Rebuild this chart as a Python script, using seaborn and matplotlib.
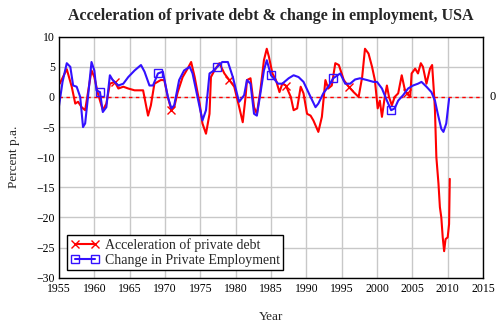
import numpy as np
import pandas as pd
import seaborn as sns
import matplotlib
matplotlib.use("Agg")
import matplotlib.pyplot as plt

# ---- data ----
debt_years = [1955.1, 1956.1, 1956.8, 1957.3, 1957.7, 1958.2, 1958.7, 1959.6, 1960.0, 1960.5,
              1961.2, 1961.7, 1962.2, 1962.9, 1963.4, 1964.1, 1964.8, 1965.7, 1966.9, 1967.6,
              1968.0, 1968.5, 1969.4, 1969.9, 1970.4, 1970.9, 1971.3, 1971.8, 1972.5, 1973.2,
              1973.7, 1974.2, 1974.9, 1975.3, 1975.8, 1976.3, 1976.5, 1977.0, 1977.7, 1978.4,
              1979.1, 1979.8, 1980.5, 1981.0, 1981.4, 1981.6, 1982.1, 1982.6, 1983.0, 1983.5,
              1984.0, 1984.4, 1984.7, 1985.2, 1985.7, 1986.2, 1986.6, 1987.1, 1987.8, 1988.2,
              1988.7, 1989.2, 1989.6, 1990.1, 1990.6, 1991.0, 1991.7, 1992.2, 1992.7, 1993.1,
              1993.6, 1994.1, 1994.6, 1995.3, 1996.0, 1996.7, 1997.4, 1997.9, 1998.3, 1998.8,
              1999.3, 1999.7, 2000.1, 2000.4, 2000.7, 2001.1, 2001.4, 2001.7, 2002.1, 2002.5,
              2003.0, 2003.5, 2003.9, 2004.2, 2004.7, 2004.9, 2005.4, 2005.8, 2006.2, 2006.5,
              2007.0, 2007.5, 2007.8, 2008.1, 2008.2, 2008.4, 2008.7, 2008.9, 2009.1, 2009.3,
              2009.5, 2009.7, 2010.0, 2010.2, 2010.3]
debt_accel = [2.2, 4.6, 1.7, -1.1, -0.8, -1.7, -2.2, 4.4, 3.3, 0.6,
              -2.2, -1.1, 2.2, 2.5, 1.4, 1.7, 1.4, 1.1, 1.1, -3.1,
              -1.4, 2.2, 2.8, 2.8, 0.0, -2.2, -1.7, 0.8, 3.3, 4.7,
              5.8, 3.3, -1.1, -4.4, -6.1, -2.8, 3.3, 4.4, 5.6, 3.9,
              2.8, 1.7, -1.7, -4.2, 0.0, 2.8, 3.1, -1.7, -2.8, 1.1,
              6.1, 8.0, 6.7, 3.9, 2.8, 0.8, 2.2, 1.9, 0.0, -2.2,
              -1.9, 1.7, 0.6, -2.8, -3.1, -3.9, -5.8, -3.3, 2.8, 1.4,
              1.9, 5.6, 5.3, 2.8, 1.7, 0.8, 0.0, 3.3, 8.0, 7.2,
              5.0, 2.8, -1.9, -0.6, -3.3, 0.0, 1.9, 0.0, -1.4, 0.0,
              0.6, 3.6, 1.4, 0.6, 0.0, 3.9, 4.7, 3.9, 5.6, 5.0,
              2.2, 4.7, 5.3, 0.0, -2.2, -10.0, -14.4, -18.3, -20.0, -23.3,
              -25.6, -23.6, -23.3, -21.1, -13.6]

emp_years = [1955.0, 1955.5, 1956.1, 1956.6, 1957.0, 1957.5, 1958.0, 1958.4, 1958.7, 1959.1,
             1959.6, 1960.0, 1960.3, 1960.8, 1961.2, 1961.7, 1962.2, 1962.6, 1963.4, 1964.1,
             1964.8, 1965.7, 1966.6, 1967.1, 1967.8, 1968.3, 1969.0, 1969.7, 1970.4, 1970.9,
             1971.3, 1972.0, 1972.7, 1973.5, 1973.9, 1974.6, 1975.3, 1975.8, 1976.3, 1976.7,
             1977.4, 1978.1, 1978.9, 1979.6, 1980.3, 1980.5, 1981.2, 1981.6, 1982.1, 1982.6,
             1983.0, 1983.5, 1984.0, 1984.4, 1985.0, 1986.0, 1986.6, 1987.5, 1988.2, 1988.9,
             1989.6, 1990.6, 1991.3, 1991.7, 1992.4, 1993.1, 1993.8, 1994.8, 1995.5, 1996.2,
             1996.9, 1997.6, 1998.6, 1999.5, 2000.0, 2000.7, 2001.4, 2002.0, 2002.5, 2003.0,
             2003.7, 2004.4, 2005.1, 2005.8, 2006.3, 2007.0, 2007.7, 2008.2, 2008.6, 2009.1,
             2009.4, 2009.8, 2010.2]
emp_change = [-1.5, 2.5, 5.6, 5.0, 1.9, 1.7, 0.0, -5.0, -4.4, 0.0,
              5.8, 4.4, 1.1, 0.8, -2.5, -1.7, 3.6, 2.8, 1.9, 2.2,
              3.3, 4.4, 5.3, 4.2, 1.9, 1.9, 3.9, 4.2, 0.0, -1.9,
              -1.4, 2.8, 4.4, 5.0, 3.9, 0.0, -3.9, -2.2, 3.9, 4.2,
              5.0, 5.8, 5.8, 3.3, 0.0, -0.8, 0.3, 2.8, 2.2, -2.8,
              -3.1, 0.6, 4.4, 6.1, 3.6, 2.2, 2.2, 3.1, 3.6, 3.3,
              2.5, 0.0, -1.7, -1.1, 0.6, 1.7, 3.1, 3.9, 2.2, 2.2,
              2.9, 3.1, 2.8, 2.5, 2.5, 1.4, -0.6, -2.2, -1.9, -0.6,
              0.3, 1.4, 1.9, 2.2, 2.5, 1.7, 0.8, -0.6, -2.8, -5.3,
              -5.8, -4.4, -0.3]

debt_marker_years = [1962.9, 1970.9, 1979.1, 1987.1, 1996.0, 2004.2]
emp_marker_years = [1960.8, 1969.0, 1977.4, 1985.0, 1993.8, 2002.0]

x_ticks = list(range(1955, 2016, 5))
y_ticks = list(range(-30, 11, 5))

title = "Acceleration of private debt & change in employment, USA"
debt_label = "Acceleration of private debt"
emp_label = "Change in Private Employment"

assert len(debt_years) == len(debt_accel)
assert len(emp_years) == len(emp_change)

debt_df = pd.DataFrame({"Year": debt_years, "Value": debt_accel})
emp_df = pd.DataFrame({"Year": emp_years, "Value": emp_change})


def nearest_idx(years, targets):
    arr = np.asarray(years)
    return [int(np.argmin(np.abs(arr - t))) for t in targets]


sns.set_theme(style="white")
plt.rcParams["font.family"] = ["Liberation Serif", "DejaVu Serif"]

fig = plt.figure(figsize=(5.02, 3.24), dpi=100)
ax = fig.add_axes([59 / 502, 1 - 277.7 / 324, (483 - 59) / 502, (277.7 - 36.7) / 324])

red = "#ff0000"
blue = "#3311ff"

sns.lineplot(data=debt_df, x="Year", y="Value", ax=ax, sort=False, estimator=None,
             color=red, linewidth=1.5, marker="x", markersize=6, markeredgewidth=1.0,
             markeredgecolor=red, markerfacecolor=red,
             markevery=nearest_idx(debt_years, debt_marker_years), label=debt_label)
sns.lineplot(data=emp_df, x="Year", y="Value", ax=ax, sort=False, estimator=None,
             color=blue, linewidth=1.5, marker="s", markersize=6, markeredgewidth=1.0,
             markerfacecolor="none", markeredgecolor=blue,
             markevery=nearest_idx(emp_years, emp_marker_years), label=emp_label)

ax.axhline(0, color=red, linestyle=(0, (2.5, 2.5)), linewidth=1.0, zorder=1)
ax.text(1.015, 0, "0", transform=ax.get_yaxis_transform(), ha="left", va="center",
        fontsize=9, color="black")

ax.set_xlim(1955, 2015)
ax.set_ylim(-30, 10)
ax.set_xticks(x_ticks)
ax.set_yticks(y_ticks)
ax.grid(True, color="#c8c8c8", linewidth=1.0)
ax.set_axisbelow(True)
for s in ax.spines.values():
    s.set_color("black")
    s.set_linewidth(1.0)
ax.tick_params(axis="both", length=0, labelsize=8.5, colors="black")
ax.tick_params(axis="x", pad=4)
ax.tick_params(axis="y", pad=3)

ax.set_xlabel("Year", fontsize=9.5, labelpad=11)
ax.set_ylabel("Percent p.a.", fontsize=9.5, labelpad=12)
ax.set_title(title, fontsize=11.5, fontweight="bold", pad=12)

leg = ax.legend(loc="lower left", bbox_to_anchor=(0.02, 0.03), numpoints=2,
                fontsize=10, frameon=True, fancybox=False, framealpha=1,
                edgecolor="black", borderpad=0.25, labelspacing=0.15,
                handlelength=2.0, handletextpad=0.45, borderaxespad=0)
leg.get_frame().set_linewidth(1.0)

fig.savefig("out.png", dpi=100)
